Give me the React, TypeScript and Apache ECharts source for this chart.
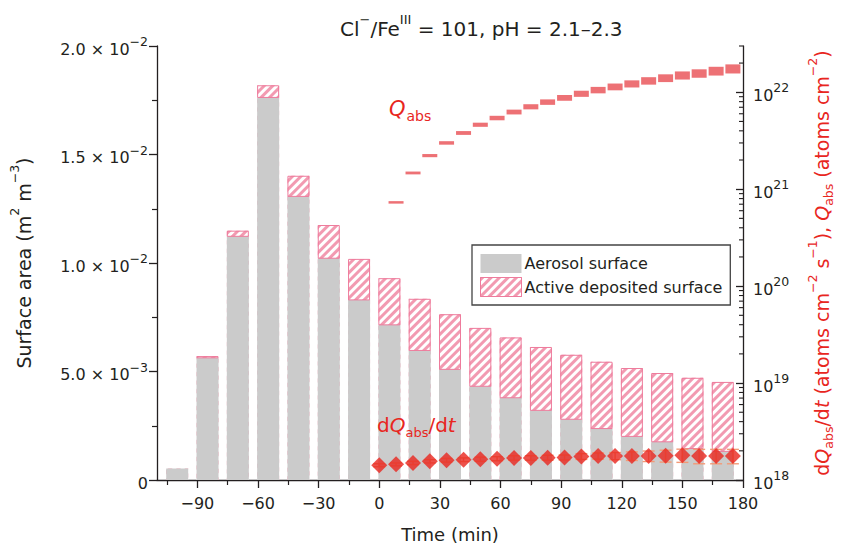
import React, { useEffect, useRef } from 'react';
import * as echarts from 'echarts';

// ---- data ----
const barTimes = [-100, -85, -70, -55, -40, -25, -10, 5, 20, 35, 50, 65, 80, 95, 110, 125, 140, 155, 170];
const aerosolSurface = [0.00053, 0.00563, 0.01123, 0.01763, 0.01307, 0.01022, 0.0083, 0.00715, 0.00597, 0.0051, 0.00432, 0.00379, 0.00321, 0.0028, 0.00237, 0.00201, 0.00176, 0.00145, 0.00132];
const activeSurface = [0, 0.00008, 0.00026, 0.00056, 0.00095, 0.00153, 0.00189, 0.00215, 0.00238, 0.00254, 0.00269, 0.00278, 0.00292, 0.00297, 0.00308, 0.00315, 0.00317, 0.00326, 0.0032];

const qTimes = [8.3, 16.7, 25, 33.3, 41.7, 50, 58.3, 66.7, 75, 83.3, 91.7, 100, 108.3, 116.7, 125, 133.3, 141.7, 150, 158.3, 166.7, 175];
const qAbs = [7.31e20, 1.47e21, 2.22e21, 3.0e21, 3.8e21, 4.62e21, 5.42e21, 6.25e21, 7.08e21, 7.91e21, 8.75e21, 9.64e21, 1.052e22, 1.135e22, 1.219e22, 1.309e22, 1.396e22, 1.489e22, 1.56e22, 1.65e22, 1.74e22];

const dqTimes = [0, 8.3, 16.7, 25, 33.3, 41.7, 50, 58.3, 66.7, 75, 83.3, 91.7, 100, 108.3, 116.7, 125, 133.3, 141.7, 150, 158.3, 166.7, 175];
const dqAbs = [1.42e18, 1.45e18, 1.5e18, 1.56e18, 1.6e18, 1.62e18, 1.64e18, 1.66e18, 1.69e18, 1.69e18, 1.7e18, 1.71e18, 1.75e18, 1.77e18, 1.77e18, 1.77e18, 1.77e18, 1.78e18, 1.8e18, 1.77e18, 1.77e18, 1.77e18];
const dqErr = [0.05e18, 0.05e18, 0.06e18, 0.06e18, 0.07e18, 0.07e18, 0.08e18, 0.08e18, 0.09e18, 0.09e18, 0.1e18, 0.1e18, 0.12e18, 0.13e18, 0.15e18, 0.18e18, 0.22e18, 0.25e18, 0.28e18, 0.3e18, 0.3e18, 0.3e18];

const xMajorTicks = [-90, -60, -30, 0, 30, 60, 90, 120, 150, 180];
const xMinorTicks = [-105, -75, -45, -15, 15, 45, 75, 105, 135, 165];
const rightMajorTicks = [1e18, 1e19, 1e20, 1e21, 1e22];
const rightDecades = [18, 19, 20, 21, 22];
const rightMantissas = [2, 3, 4, 5, 6, 7, 8, 9];

const FONT = '"DejaVu Sans", "Liberation Sans", Arial, sans-serif';
const RED = '#e8261e';
const INK = '#231f20';
const PINK = '#ee7b9c';
const BAR_W = 22;

export default function App() {
  const ref = useRef<HTMLDivElement>(null);
  useEffect(() => {
    if (!ref.current) return;
    const chart = echarts.init(ref.current, null, { renderer: 'svg' });

    const rightMinor: number[][] = [];
    rightDecades.forEach((d) => {
      rightMantissas.forEach((m) => {
        const v = m * Math.pow(10, d);
        if (v <= 3e22) rightMinor.push([180, v]);
      });
    });

    const totalSurface = aerosolSurface.map((a, i) => a + activeSurface[i]);

    const supStyle = { fontSize: 12.5, fontFamily: FONT, verticalAlign: 'top', color: INK };
    const baseLabel = { fontSize: 16, fontFamily: FONT, color: INK, padding: [6, 0, 0, 0] };

    const option: any = {
      animation: false,
      textStyle: { fontFamily: FONT },
      title: {
        text: '{n|Cl}{sup|−}{n|/Fe}{sup|III}{n| = 101, pH = 2.1–2.3}',
        left: 335,
        top: 8,
        textStyle: {
          fontWeight: 'normal',
          rich: {
            n: { fontSize: 20, fontWeight: 'normal', fontFamily: FONT, color: INK, padding: [6, 0, 0, 0] },
            sup: { fontSize: 13, fontWeight: 'normal', fontFamily: FONT, color: INK, verticalAlign: 'top' },
          },
        },
      },
      legend: {
        data: [
          { name: 'Aerosol surface' },
          { name: 'Active deposited surface', itemStyle: { borderColor: PINK, borderWidth: 1 } },
        ],
        orient: 'vertical',
        left: 472,
        top: 245,
        itemWidth: 41,
        itemHeight: 19,
        itemGap: 4,
        icon: 'rect',
        padding: [9, 8, 8, 8],
        borderColor: '#444',
        borderWidth: 1.3,
        backgroundColor: '#fff',
        textStyle: { fontSize: 16, color: INK, fontFamily: FONT, padding: [0, 0, 0, -2] },
      },
      grid: { left: 155, right: 88, top: 46, bottom: 66.5 },
      xAxis: [
        {
          type: 'value',
          min: -110,
          max: 180,
          name: 'Time (min)',
          nameLocation: 'middle',
          nameGap: 45,
          nameTextStyle: { fontSize: 18, color: INK, fontFamily: FONT },
          axisLine: { show: true, onZero: false, lineStyle: { color: INK, width: 1.3 } },
          axisTick: { show: true, length: 8, customValues: xMajorTicks, lineStyle: { color: INK, width: 1.3 } },
          axisLabel: {
            customValues: xMajorTicks,
            margin: 15,
            fontSize: 16,
            color: INK,
            fontFamily: FONT,
            formatter: (v: number) => (v < 0 ? '−' + Math.abs(v) : String(v)),
          },
          splitLine: { show: false },
        },
        {
          type: 'value',
          min: -110,
          max: 180,
          position: 'bottom',
          axisLine: { show: false, onZero: false },
          axisTick: { show: true, length: 5, customValues: xMinorTicks, lineStyle: { color: INK, width: 1.2 } },
          axisLabel: { show: false },
          splitLine: { show: false },
        },
      ],
      yAxis: [
        {
          type: 'value',
          min: 0,
          max: 0.02,
          interval: 0.005,
          name: '{d|Surface area (m}{sup|2}{d| m}{sup|−3}{d|)}',
          nameLocation: 'middle',
          nameRotate: 90,
          nameGap: 124,
          nameTextStyle: {
            rich: {
              d: { fontSize: 19, fontFamily: FONT, color: INK, padding: [6, 0, 0, 0] },
              sup: { fontSize: 12.5, fontFamily: FONT, color: INK, verticalAlign: 'top' },
            },
          },
          axisLine: { show: true, onZero: false, lineStyle: { color: INK, width: 1.3 } },
          axisTick: { show: true, length: 8, lineStyle: { color: INK, width: 1.3 } },
          minorTick: { show: true, splitNumber: 2, length: 5, lineStyle: { color: INK, width: 1.2 } },
          axisLabel: {
            margin: 9,
            formatter: (v: number) => {
              if (v === 0) return '{b|0}';
              const e = Math.floor(Math.log10(v) + 1e-9);
              const m = v / Math.pow(10, e);
              return '{b|' + m.toFixed(1) + ' × 10}{sup|−' + -e + '}';
            },
            rich: { b: baseLabel, sup: supStyle },
          },
          splitLine: { show: false },
        },
        {
          type: 'log',
          logBase: 10,
          min: 1e18,
          max: 3e22,
          position: 'right',
          name:
            '{d|d}{qi|Q}{sub|abs}{d|/d}{ti|t}{d| (atoms cm}{sup|−2}{d| s}{sup|−1}{d|), }{qi|Q}{sub|abs}{d| (atoms cm}{sup|−2}{d|)}',
          nameLocation: 'middle',
          nameRotate: 90,
          nameGap: 63,
          nameTextStyle: {
            rich: {
              d: { fontSize: 19, fontFamily: FONT, color: RED, padding: [6, 0, 4, 0] },
              qi: { fontSize: 19, fontFamily: FONT, color: RED, fontStyle: 'italic', padding: [6, 0, 4, 0] },
              ti: { fontSize: 19, fontFamily: FONT, color: RED, fontStyle: 'italic', padding: [6, 0, 4, 0] },
              sup: { fontSize: 12.5, fontFamily: FONT, color: RED, verticalAlign: 'top' },
              sub: { fontSize: 12.5, fontFamily: FONT, color: RED, verticalAlign: 'bottom' },
            },
          },
          axisLine: { show: true, onZero: false, lineStyle: { color: INK, width: 1.3 } },
          axisTick: { show: true, inside: true, length: 7, customValues: rightMajorTicks, lineStyle: { color: INK, width: 1.3 } },
          axisLabel: {
            customValues: rightMajorTicks,
            margin: 10,
            formatter: (v: number) => '{b|10}{sup|' + Math.round(Math.log10(v)) + '}',
            rich: { b: baseLabel, sup: supStyle },
          },
          splitLine: { show: false },
        },
      ],
      graphic: [
        {
          type: 'text',
          left: 389,
          top: 98,
          style: {
            text: '{q|Q}{s|abs}',
            rich: {
              q: { fontSize: 21, fontFamily: FONT, fill: RED, fontStyle: 'italic', padding: [0, 1, 4, 0] },
              s: { fontSize: 14, fontFamily: FONT, fill: RED, verticalAlign: 'bottom' },
            },
          },
          z: 10,
        },
        {
          type: 'text',
          left: 377,
          top: 415,
          style: {
            text: '{d|d}{q|Q}{s|abs}{d|/d}{t|t}',
            rich: {
              d: { fontSize: 20, fontFamily: FONT, fill: RED, padding: [0, 0, 4, 0] },
              q: { fontSize: 20, fontFamily: FONT, fill: RED, fontStyle: 'italic', padding: [0, 0, 4, 0] },
              t: { fontSize: 20, fontFamily: FONT, fill: RED, fontStyle: 'italic', padding: [0, 0, 4, 0] },
              s: { fontSize: 13, fontFamily: FONT, fill: RED, verticalAlign: 'bottom' },
            },
          },
          z: 10,
        },
      ],
      series: [
        {
          name: 'Active deposited surface',
          type: 'bar',
          barWidth: BAR_W,
          barGap: '-100%',
          xAxisIndex: 0,
          yAxisIndex: 0,
          itemStyle: {
            color: '#ffffff',
            borderWidth: 0,
            decal: {
              symbol: 'rect',
              symbolSize: 1,
              color: '#f29ab1',
              backgroundColor: '#ffffff',
              dashArrayX: [1, 0],
              dashArrayY: [2.5, 3],
              rotation: -Math.PI / 4,
            },
          },
          data: barTimes.map((t, i) => [t, totalSurface[i]]),
          z: 1,
        },
        {
          name: 'Aerosol surface',
          type: 'bar',
          barWidth: BAR_W,
          barGap: '-100%',
          xAxisIndex: 0,
          yAxisIndex: 0,
          itemStyle: { color: '#cbcbcb' },
          data: barTimes.map((t, i) => [t, aerosolSurface[i]]),
          z: 2,
        },
        {
          type: 'custom',
          xAxisIndex: 0,
          yAxisIndex: 0,
          silent: true,
          z: 3,
          encode: { x: 0, y: [1, 2] },
          data: barTimes.map((t, i) => [t, aerosolSurface[i], totalSurface[i]]),
          renderItem: (params: any, api: any) => {
            const lo = api.coord([api.value(0), api.value(1)]);
            const hi = api.coord([api.value(0), api.value(2)]);
            if (lo[1] - hi[1] < 0.5) return null;
            return {
              type: 'rect',
              shape: { x: lo[0] - BAR_W / 2 + 0.5, y: hi[1] + 0.5, width: BAR_W - 1, height: lo[1] - hi[1] - 0.5 },
              style: { fill: 'none', stroke: PINK, lineWidth: 1 },
            };
          },
        },
        {
          type: 'custom',
          xAxisIndex: 0,
          yAxisIndex: 1,
          silent: true,
          z: 3,
          data: rightMinor,
          clip: false,
          renderItem: (params: any, api: any) => {
            const p = api.coord([api.value(0), api.value(1)]);
            return {
              type: 'line',
              shape: { x1: p[0] - 4, y1: p[1], x2: p[0], y2: p[1] },
              style: { stroke: INK, lineWidth: 1.1 },
            };
          },
        },
        {
          name: 'Qabs',
          type: 'scatter',
          xAxisIndex: 0,
          yAxisIndex: 1,
          symbol: 'rect',
          symbolSize: (val: any, params: any) => [15, 2.5 + params.dataIndex * 0.33],
          itemStyle: { color: '#ec6569', opacity: 0.92 },
          data: qTimes.map((t, i) => [t, qAbs[i]]),
          z: 5,
        },
        {
          type: 'custom',
          xAxisIndex: 0,
          yAxisIndex: 1,
          silent: true,
          z: 4,
          encode: { x: 0, y: [1, 2] },
          data: dqTimes.map((t, i) => [t, dqAbs[i] - dqErr[i], dqAbs[i] + dqErr[i]]),
          renderItem: (params: any, api: any) => {
            const lo = api.coord([api.value(0), api.value(1)]);
            const hi = api.coord([api.value(0), api.value(2)]);
            const w = 6;
            const st = { stroke: '#f29a77', lineWidth: 1.4 };
            return {
              type: 'group',
              children: [
                { type: 'line', shape: { x1: lo[0], y1: lo[1], x2: hi[0], y2: hi[1] }, style: st },
                { type: 'line', shape: { x1: lo[0] - w, y1: lo[1], x2: lo[0] + w, y2: lo[1] }, style: st },
                { type: 'line', shape: { x1: hi[0] - w, y1: hi[1], x2: hi[0] + w, y2: hi[1] }, style: st },
              ],
            };
          },
        },
        {
          name: 'dQabs/dt',
          type: 'scatter',
          xAxisIndex: 0,
          yAxisIndex: 1,
          symbol: 'diamond',
          symbolSize: [16, 16],
          itemStyle: { color: RED },
          data: dqTimes.map((t, i) => [t, dqAbs[i]]),
          z: 6,
        },
      ],
    };

    chart.setOption(option);
    return () => chart.dispose();
  }, []);

  return (
    <div
      ref={ref}
      style={{ position: 'fixed', left: 0, top: 0, width: 843, height: 548, background: '#fff' }}
    />
  );
}
